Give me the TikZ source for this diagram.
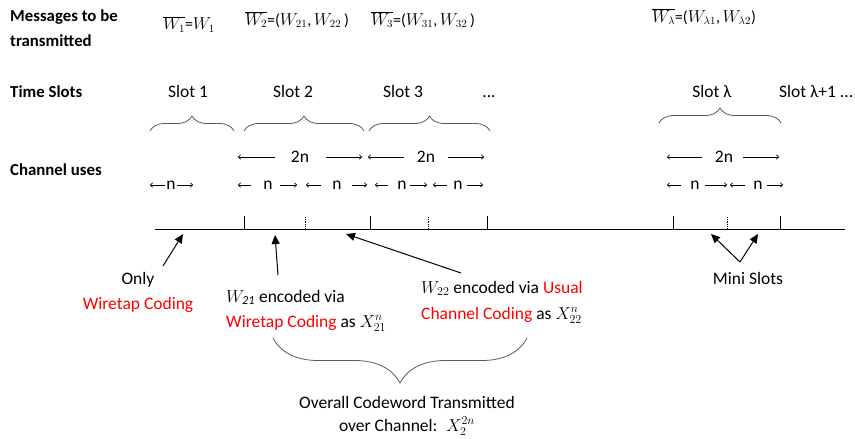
\documentclass[tikz,border=0pt]{standalone}
\usepackage{fontspec}
\setmainfont{Carlito}
\usetikzlibrary{decorations.pathreplacing,arrows.meta}
\begin{document}
\begin{tikzpicture}[x=1pt,y=-1pt,
  txt/.style={inner sep=0pt,anchor=base,font=\fontsize{17.5}{21}\selectfont},
  lbl/.style={txt,anchor=base west,font=\fontsize{16.8}{20}\selectfont\bfseries},
  mth/.style={txt,font=\fontsize{16}{19}\selectfont},
  bracestyle/.style={draw=black!65,line width=0.8pt,decorate,decoration={brace,amplitude=#1}},
  meas/.style={line width=0.6pt,-{To[length=3pt,width=5pt]}},
  ptr/.style={line width=1pt,-{Triangle[length=9pt,width=8pt]}},
  tick/.style={line width=0.8pt},
  dtick/.style={line width=0.8pt,densely dotted}]
\useasboundingbox (0,0) rectangle (855,439);
% left labels
\node[lbl] (msg1) at (10,21) {Messages to be};
\node[lbl] (msg2) at (10,46) {transmitted};
\node[lbl] (ts) at (10,97) {Time Slots};
\node[lbl] (cu) at (10,175) {Channel uses};
% messages
\node[mth] (w1) at (189,30) {$\overline{W_1}$=$W_1$};
\node[mth] (w2) at (297,25) {$\overline{W_2}$=($W_{21}$,\,$W_{22}$\,)};
\node[mth] (w3) at (423,25) {$\overline{W_3}$=($W_{31}$,\,$W_{32}$\,)};
\node[mth] (wl) at (704,22) {$\overline{W_\lambda}$=($W_{\lambda1}$,\,$W_{\lambda2}$)};
% slots
\node[txt] (s1) at (188,97) {Slot 1};
\node[txt] (s2) at (293,97) {Slot 2};
\node[txt] (s3) at (403,97) {Slot 3};
\node[txt] (sd) at (489,97) {...};
\node[txt] (sl) at (712,97) {Slot λ};
\node[txt,anchor=base west] (sl1) at (779,97) {Slot λ+1 ...};
% braces
\draw[bracestyle=15] (150,131) -- (234,131);
\draw[bracestyle=15] (244,131) -- (364,131);
\draw[bracestyle=15] (369,131) -- (490,131);
\draw[bracestyle=15] (659,123) -- (781,123);
% 2n rows
\node[txt] (tn2) at (300,162) {2n};
\draw[meas] (275,157) -- (238,157);
\draw[meas] (326,157) -- (362,157);
\node[txt] (tn3) at (426,162) {2n};
\draw[meas] (404,157) -- (368,157);
\draw[meas] (448,157) -- (484,157);
\node[txt] (tnl) at (724,162) {2n};
\draw[meas] (702,157) -- (667,157);
\draw[meas] (743,157) -- (779,157);
% n rows
\node[txt] (n1) at (171,189) {n};
\draw[meas] (165,185) -- (150,185);
\draw[meas] (177,185) -- (193,185);
\node[txt] (n21) at (268,189) {n};
\draw[meas] (251,185) -- (238,185);
\draw[meas] (280,185) -- (297,185);
\node[txt] (n22) at (337,189) {n};
\draw[meas] (321,185) -- (306,185);
\draw[meas] (352,185) -- (367,185);
\node[txt] (n31) at (402,189) {n};
\draw[meas] (388,185) -- (375,185);
\draw[meas] (410,185) -- (427,185);
\node[txt] (n32) at (458,189) {n};
\draw[meas] (447,185) -- (433,185);
\draw[meas] (467,185) -- (483,185);
\node[txt] (nl1) at (695,189) {n};
\draw[meas] (681,185) -- (667,185);
\draw[meas] (705,185) -- (727,185);
\node[txt] (nl2) at (758,189) {n};
\draw[meas] (745,185) -- (730,185);
\draw[meas] (767,185) -- (783,185);
% timeline
\coordinate (ta) at (155,229);
\coordinate (tb) at (845,229);
\draw[line width=0.8pt] (ta) -- (tb);
\foreach \x in {244,370,487,673,780} \draw[tick] (\x,216) -- (\x,229);
\foreach \x in {305,428,727} \draw[dtick] (\x,217) -- (\x,229);
% pointers
\coordinate (p1) at (183,234);
\coordinate (p2) at (275,235);
\coordinate (p3) at (346,234);
\coordinate (m1) at (711,234);
\coordinate (m2) at (758,234);
\coordinate (q1) at (163,266);
\coordinate (q2) at (278,275);
\coordinate (q3) at (461,273);
\coordinate (q4) at (740,262);
\draw[ptr] (q1) -- (p1);
\draw[ptr] (q2) -- (p2);
\draw[ptr] (q3) -- (p3);
\draw[ptr] (q4) -- (m1);
\draw[ptr] (q4) -- (m2);
% lower texts
\node[txt] (only) at (138,284) {Only};
\node[txt,text=red] (wc1) at (138,309) {Wiretap Coding};
\node[txt,anchor=base west] (e21) at (226,302) {$W_{\mathit{21}}$ encoded via};
\node[txt,anchor=base west] (c21) at (226,327) {\textcolor{red}{Wiretap Coding} as $X_{21}^{n}$};
\node[txt,anchor=base west] (e22) at (421,293) {$W_{22}$ encoded via \textcolor{red}{Usual}};
\node[txt,anchor=base west] (c22) at (421,319) {\textcolor{red}{Channel Coding} as $X_{22}^{n}$};
\node[txt] (mini) at (748,284) {Mini Slots};
% bottom brace
\draw[bracestyle=45] (527,338) -- (273,338);
\node[txt] (ov1) at (407,408) {Overall Codeword Transmitted};
\node[txt] (ov2) at (407,431) {over Channel:\enspace$X_2^{2n}$};
\end{tikzpicture}
\end{document}
